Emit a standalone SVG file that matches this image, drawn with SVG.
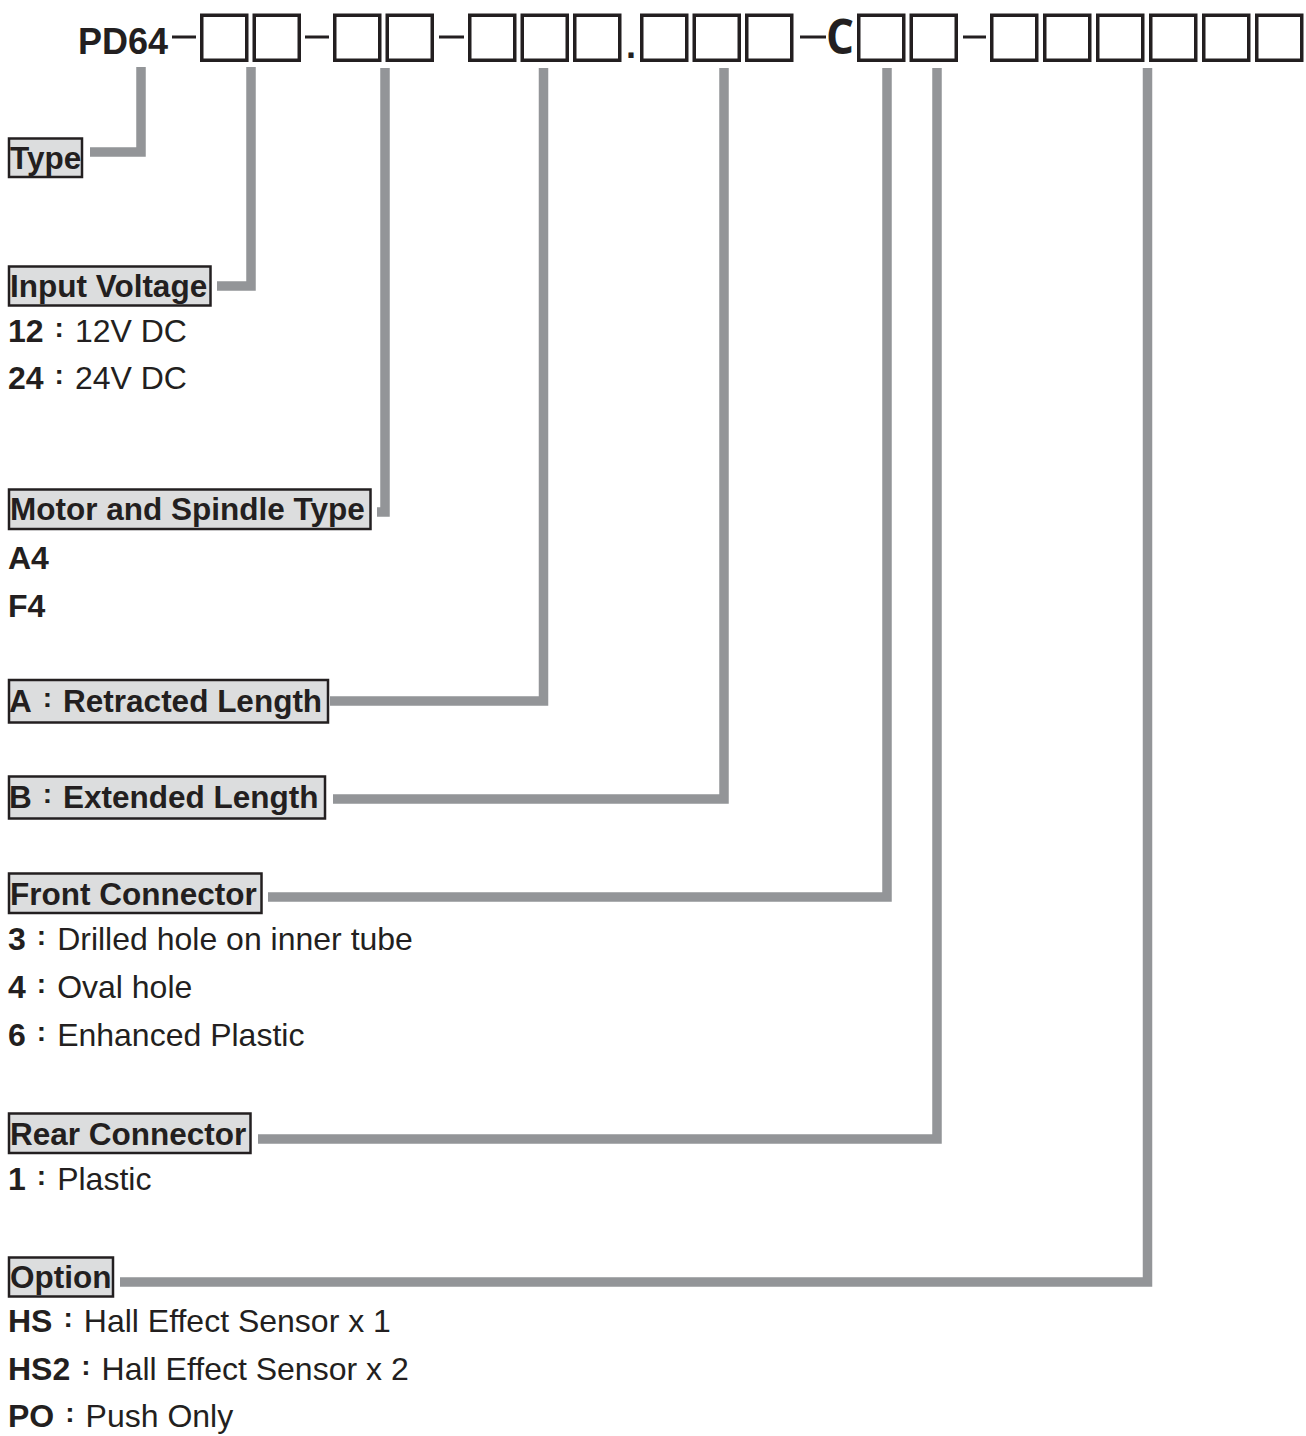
<svg xmlns="http://www.w3.org/2000/svg" width="1306" height="1436" viewBox="0 0 1306 1436">
<style>
.bg{fill:#ffffff}
.hdr{font-family:"Liberation Sans",Arial,sans-serif;font-weight:bold;font-size:36px;fill:#231f20}
.hc{font-family:"Open Sans","Liberation Sans",sans-serif;font-weight:bold;font-size:49px;fill:#231f20}
.slot{fill:#ffffff;stroke:#231f20;stroke-width:3.5}
.dash{stroke:#231f20;stroke-width:3;fill:none}
.conn{fill:none;stroke:#939598;stroke-width:9.5;stroke-linejoin:miter;stroke-linecap:butt}
.lbox{fill:#dcddde;stroke:#231f20;stroke-width:2.5}
.lt{font-family:"Liberation Sans",Arial,sans-serif;font-weight:bold;font-size:31.5px;fill:#231f20}
.it{font-family:"Liberation Sans",Arial,sans-serif;font-size:32px;fill:#231f20}
.b{font-weight:bold}
.col{font-weight:bold;font-size:28px}
</style>
<rect class="bg" x="0" y="0" width="1306" height="1436"/>

<g id="header">
<text class="hdr" x="78" y="54">PD64</text>
<line class="dash" x1="172" y1="37" x2="196" y2="37"/>
<rect class="slot" x="201.75" y="15.25" width="45" height="45"/>
<rect class="slot" x="254.25" y="15.25" width="45" height="45"/>
<line class="dash" x1="305" y1="37" x2="329" y2="37"/>
<rect class="slot" x="334.75" y="15.25" width="45" height="45"/>
<rect class="slot" x="387.25" y="15.25" width="45" height="45"/>
<line class="dash" x1="439" y1="37" x2="464" y2="37"/>
<rect class="slot" x="469.75" y="15.25" width="45" height="45"/>
<rect class="slot" x="522.25" y="15.25" width="45" height="45"/>
<rect class="slot" x="574.75" y="15.25" width="45" height="45"/>
<text class="hdr" x="626" y="58">.</text>
<rect class="slot" x="641.75" y="15.25" width="45" height="45"/>
<rect class="slot" x="694.25" y="15.25" width="45" height="45"/>
<rect class="slot" x="746.75" y="15.25" width="45" height="45"/>
<line class="dash" x1="800" y1="37" x2="826" y2="37"/>
<text class="hc" x="826" y="54" textLength="28" lengthAdjust="spacingAndGlyphs">C</text>
<rect class="slot" x="858.75" y="15.25" width="45" height="45"/>
<rect class="slot" x="911.25" y="15.25" width="45" height="45"/>
<line class="dash" x1="963" y1="37" x2="986" y2="37"/>
<rect class="slot" x="991.75" y="15.25" width="45" height="45"/>
<rect class="slot" x="1044.75" y="15.25" width="45" height="45"/>
<rect class="slot" x="1097.75" y="15.25" width="45" height="45"/>
<rect class="slot" x="1150.75" y="15.25" width="45" height="45"/>
<rect class="slot" x="1203.75" y="15.25" width="45" height="45"/>
<rect class="slot" x="1256.75" y="15.25" width="45" height="45"/>
</g>

<g id="connectors">
<path class="conn" d="M141,67 V152 H90"/>
<path class="conn" d="M251,67 V286 H217"/>
<path class="conn" d="M385,68 V512 H377"/>
<path class="conn" d="M543.5,68 V701 H330"/>
<path class="conn" d="M724,68 V799 H333"/>
<path class="conn" d="M887,68 V897 H268"/>
<path class="conn" d="M937,68 V1139 H258"/>
<path class="conn" d="M1147.5,68 V1282 H120"/>
</g>

<g id="type">
<rect class="lbox" x="9" y="138.5" width="73" height="38.5"/>
<text class="lt" x="10" y="169">Type</text>
</g>

<g id="input-voltage">
<rect class="lbox" x="9" y="266.5" width="201.5" height="39"/>
<text class="lt" x="10" y="297">Input Voltage</text>
<text class="it" x="8" y="342"><tspan class="b">12</tspan><tspan class="col" dx="11" dy="-5">:</tspan><tspan dx="11" dy="5">12V DC</tspan></text>
<text class="it" x="8" y="389"><tspan class="b">24</tspan><tspan class="col" dx="11" dy="-5">:</tspan><tspan dx="11" dy="5">24V DC</tspan></text>
</g>

<g id="motor-spindle">
<rect class="lbox" x="9" y="489.5" width="361.5" height="39.5"/>
<text class="lt" x="10" y="520">Motor and Spindle Type</text>
<text class="it b" x="8" y="569">A4</text>
<text class="it b" x="8" y="617">F4</text>
</g>

<g id="retracted-length">
<rect class="lbox" x="9" y="680" width="319" height="42.5"/>
<text class="lt" x="9" y="712">A<tspan class="col" dx="11" dy="-5">:</tspan><tspan dx="11" dy="5">Retracted Length</tspan></text>
</g>

<g id="extended-length">
<rect class="lbox" x="9" y="776.5" width="316" height="42"/>
<text class="lt" x="9" y="808">B<tspan class="col" dx="11" dy="-5">:</tspan><tspan dx="11" dy="5">Extended Length</tspan></text>
</g>

<g id="front-connector">
<rect class="lbox" x="9" y="873.5" width="252.5" height="39.5"/>
<text class="lt" x="10" y="905">Front Connector</text>
<text class="it" x="8" y="950"><tspan class="b">3</tspan><tspan class="col" dx="11" dy="-5">:</tspan><tspan dx="11" dy="5">Drilled hole on inner tube</tspan></text>
<text class="it" x="8" y="998"><tspan class="b">4</tspan><tspan class="col" dx="11" dy="-5">:</tspan><tspan dx="11" dy="5">Oval hole</tspan></text>
<text class="it" x="8" y="1046"><tspan class="b">6</tspan><tspan class="col" dx="11" dy="-5">:</tspan><tspan dx="11" dy="5">Enhanced Plastic</tspan></text>
</g>

<g id="rear-connector">
<rect class="lbox" x="9" y="1113.5" width="241.5" height="39.5"/>
<text class="lt" x="10" y="1145">Rear Connector</text>
<text class="it" x="8" y="1190"><tspan class="b">1</tspan><tspan class="col" dx="11" dy="-5">:</tspan><tspan dx="11" dy="5">Plastic</tspan></text>
</g>

<g id="option">
<rect class="lbox" x="9" y="1257.5" width="104" height="39"/>
<text class="lt" x="10" y="1288">Option</text>
<text class="it" x="8" y="1332"><tspan class="b">HS</tspan><tspan class="col" dx="11" dy="-5">:</tspan><tspan dx="11" dy="5">Hall Effect Sensor x 1</tspan></text>
<text class="it" x="8" y="1380"><tspan class="b">HS2</tspan><tspan class="col" dx="11" dy="-5">:</tspan><tspan dx="11" dy="5">Hall Effect Sensor x 2</tspan></text>
<text class="it" x="8" y="1427"><tspan class="b">PO</tspan><tspan class="col" dx="11" dy="-5">:</tspan><tspan dx="11" dy="5">Push Only</tspan></text>
</g>
</svg>
